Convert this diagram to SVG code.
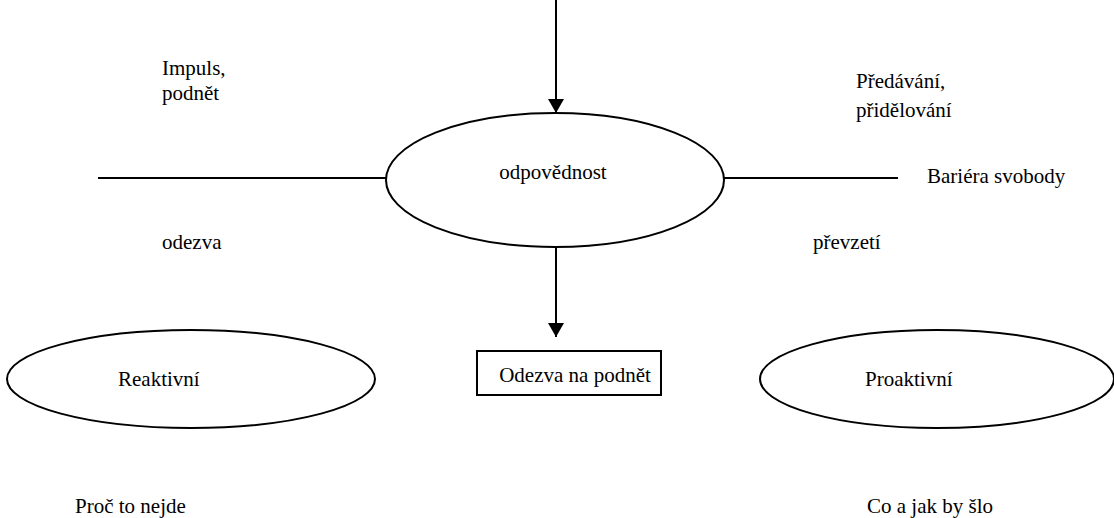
<svg xmlns="http://www.w3.org/2000/svg" width="1114" height="518" viewBox="0 0 1114 518">
<style>
.t{font-family:'Liberation Serif','Times New Roman',serif;font-size:21px;fill:#000}
.s{fill:#fff;stroke:#000;stroke-width:2}
.l{stroke:#000;stroke-width:2;fill:none}
</style>
<defs>
<marker id="ah" viewBox="0 0 14 16" refX="14" refY="8" markerWidth="14" markerHeight="16" orient="auto" markerUnits="userSpaceOnUse">
<path d="M0,0 L14,8 L0,16 Z" fill="#000"/>
</marker>
</defs>
<rect width="1114" height="518" fill="#fff"/>
<g id="connectors">
<line class="l" x1="556" y1="0" x2="556" y2="113" marker-end="url(#ah)"/>
<line class="l" x1="556" y1="247" x2="556" y2="337" marker-end="url(#ah)"/>
<line class="l" x1="98" y1="178" x2="387" y2="178"/>
<line class="l" x1="723" y1="178" x2="898" y2="178"/>
</g>
<g id="odpovednost">
<ellipse class="s" cx="555" cy="180" rx="169" ry="67"/>
<text class="t" x="553" y="179" text-anchor="middle">odpovědnost</text>
</g>
<g id="odezva-na-podnet">
<rect class="s" x="477" y="351" width="184" height="44"/>
<text class="t" x="575" y="382" text-anchor="middle">Odezva na podnět</text>
</g>
<g id="reaktivni">
<ellipse class="s" cx="191" cy="379" rx="184" ry="49"/>
<text class="t" x="118" y="386">Reaktivní</text>
</g>
<g id="proaktivni">
<ellipse class="s" cx="937" cy="379" rx="177" ry="49"/>
<text class="t" x="865" y="386">Proaktivní</text>
</g>
<g id="labels">
<text class="t" x="162" y="75">Impuls,</text>
<text class="t" x="162" y="100">podnět</text>
<text class="t" x="856" y="88">Předávání,</text>
<text class="t" x="856" y="117">přidělování</text>
<text class="t" x="927" y="183">Bariéra svobody</text>
<text class="t" x="162" y="249">odezva</text>
<text class="t" x="813" y="249">převzetí</text>
<text class="t" x="75" y="513">Proč to nejde</text>
<text class="t" x="867" y="513">Co a jak by šlo</text>
</g>
</svg>
